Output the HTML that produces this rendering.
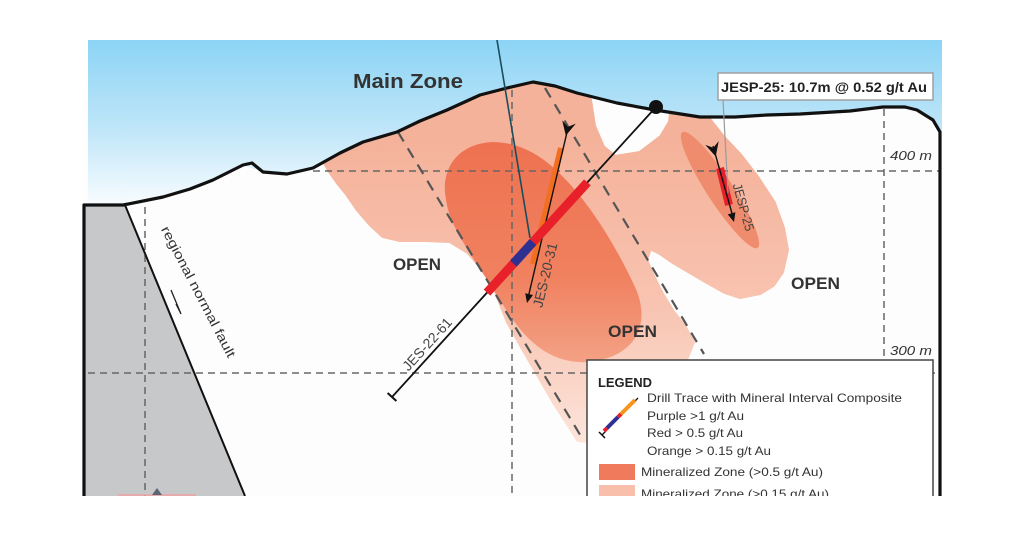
<!DOCTYPE html>
<html>
<head>
<meta charset="utf-8">
<style>
html,body{margin:0;padding:0;background:#fff;}
svg{display:block;}
text{font-family:"Liberation Sans",sans-serif;}
</style>
</head>
<body>
<svg width="1024" height="536" viewBox="0 0 1024 536" xmlns="http://www.w3.org/2000/svg">
<defs>
  <linearGradient id="sky" gradientUnits="userSpaceOnUse" x1="0" y1="40" x2="0" y2="212">
    <stop offset="0" stop-color="#8cd4f5"/>
    <stop offset="0.5" stop-color="#bde5f8"/>
    <stop offset="1" stop-color="#fdfeff"/>
  </linearGradient>
  <linearGradient id="pale" gradientUnits="userSpaceOnUse" x1="0" y1="140" x2="0" y2="445">
    <stop offset="0" stop-color="#f5b29a"/>
    <stop offset="0.55" stop-color="#f8c4b1"/>
    <stop offset="1" stop-color="#fde5db"/>
  </linearGradient>
  <linearGradient id="dark" gradientUnits="userSpaceOnUse" x1="0" y1="145" x2="0" y2="365">
    <stop offset="0" stop-color="#ee7252"/>
    <stop offset="0.6" stop-color="#f0815f"/>
    <stop offset="1" stop-color="#f4a286"/>
  </linearGradient>
</defs>

<rect x="0" y="0" width="1024" height="536" fill="#fff"/>
<!-- underground -->
<rect x="84" y="100" width="856" height="396" fill="#fdfdfd"/>

<!-- gray fault block -->
<polygon points="84,205 125,205 245,496 84,496" fill="#c7c8ca"/>

<!-- pale mineralized zone -->
<polygon fill="url(#pale)" stroke="url(#pale)" stroke-width="4" stroke-linejoin="round" points="
318,150 329,170 338,183 347,194 358,210 370,224 383,236 400,240 425,240 450,241 468,252 482,268 493,284 500,302 508,322 522,347 537,373 555,404 568,424 578,440 600,442 630,418 655,396 685,362 693,342 684,326 673,312 662,294 653,276 646,260 650,248 660,253 673,262 690,272 707,282 725,292 740,297 760,293 773,285 782,272 787,250 783,228 774,203 757,177 740,155 723,137 708,118 700,104 672,104 670,122 661,137 640,153 615,157 603,147 594,126 590,100 560,60 330,120"/>

<!-- dark mineralized zone -->
<path fill="url(#dark)" d="M 445,193 C 443,165 460,144 492,142 C 522,142 546,158 566,180 C 591,206 616,246 635,287 C 651,322 638,356 590,362 C 550,365 525,340 505,308 C 485,275 460,242 450,216 C 447,207 446,200 445,193 Z"/>
<ellipse cx="720" cy="190" rx="69" ry="13" transform="rotate(57 720 190)" fill="#f08c6e"/>

<!-- sky -->
<path fill="url(#sky)" d="M88,40 L942,40 L942,132 L940,132 L933,120 L917,110 L883,107 L850,111 L833,112 L767,115 L700,117 L655,110 L617,103 L577,93 L533,82 L507,88 L480,95 L447,110 L397,132 L363,142 L340,153 L313,168 L287,174 L263,172 L243,165 L213,180 L163,197 L123,205 L88,205 Z"/>

<!-- grid dashed lines -->
<g stroke="#666" stroke-width="1.5" stroke-dasharray="7 5" fill="none">
  <line x1="313" y1="171" x2="940" y2="171"/>
  <line x1="88" y1="373" x2="940" y2="373"/>
  <line x1="145" y1="207" x2="145" y2="496"/>
  <line x1="512" y1="90" x2="512" y2="496"/>
  <line x1="884" y1="109" x2="884" y2="496"/>
</g>
<!-- diagonal dashed lines -->
<g stroke="#555" stroke-width="2.2" stroke-dasharray="11 8" fill="none">
  <line x1="398" y1="132" x2="582" y2="438"/>
  <line x1="545" y1="88" x2="704" y2="354"/>
</g>

<!-- fault line -->
<line x1="125" y1="205" x2="245" y2="496" stroke="#111" stroke-width="2"/>
<polyline points="171,290 181,314 176,304" fill="none" stroke="#222" stroke-width="1.3"/>

<!-- surface line -->
<path fill="none" stroke="#111" stroke-width="3.2" stroke-linejoin="round" d="M84,496 L84,205 L123,205 L163,197 L190,189 L213,180 L243,165 L252,163 L263,172 L287,174 L313,168 L340,153 L363,142 L397,132 L420,121 L447,110 L480,95 L507,88 L533,82 L555,86 L577,93 L617,103 L655,110 L700,117 L735,117 L767,115 L800,114 L833,112 L850,111 L883,107 L905,107 L917,110 L933,120 L940,132 L940,496"/>

<!-- teal line -->
<line x1="497" y1="40" x2="530" y2="238" stroke="#1b4d5c" stroke-width="1.6"/>

<!-- JES-20-31 -->
<line x1="561" y1="148" x2="533" y2="264" stroke="#f26f21" stroke-width="6"/>
<line x1="568" y1="128" x2="528" y2="298" stroke="#111" stroke-width="1.4"/>
<polygon points="527,303 533,295 525.2,293.3" fill="#111"/>
<polygon points="575.8,123.6 567.9,126.9 562.2,120.4 565.8,135.6" fill="#111"/>

<!-- JES-22-61 -->
<line x1="656" y1="107" x2="392" y2="397" stroke="#111" stroke-width="1.8"/>
<line x1="396.4" y1="401" x2="387.6" y2="393" stroke="#111" stroke-width="2"/>
<line x1="587.4" y1="182.4" x2="487" y2="292.6" stroke="#e8202a" stroke-width="9"/>
<line x1="533" y1="242" x2="513.4" y2="263.6" stroke="#2e3192" stroke-width="9"/>
<circle cx="656" cy="107" r="7" fill="#111"/>

<!-- JESP-25 -->
<line x1="720" y1="168" x2="729" y2="205" stroke="#e8202a" stroke-width="8"/>
<line x1="713" y1="146" x2="733" y2="217" stroke="#111" stroke-width="1.4"/>
<polygon points="734,222 735.4,212.2 727.7,214.4" fill="#111"/>
<polygon points="718.7,141.1 713.3,147.8 705.3,144.9 715.7,156.5" fill="#111"/>

<!-- callout -->
<line x1="723" y1="100" x2="728" y2="193" stroke="#9a9a9a" stroke-width="1.2"/>
<rect x="718" y="73" width="215" height="27" fill="#fff" stroke="#a0a0a0" stroke-width="1.5"/>
<text x="721" y="92" font-size="14" font-weight="bold" fill="#222" textLength="206" lengthAdjust="spacingAndGlyphs">JESP-25: 10.7m @ 0.52 g/t Au</text>

<!-- labels -->
<text x="353" y="88" font-size="20" font-weight="bold" fill="#333" textLength="110" lengthAdjust="spacingAndGlyphs">Main Zone</text>
<text x="393" y="270" font-size="17" font-weight="bold" fill="#333" textLength="48" lengthAdjust="spacingAndGlyphs">OPEN</text>
<text x="608" y="337" font-size="17" font-weight="bold" fill="#333" textLength="49" lengthAdjust="spacingAndGlyphs">OPEN</text>
<text x="791" y="289" font-size="17" font-weight="bold" fill="#333" textLength="49" lengthAdjust="spacingAndGlyphs">OPEN</text>
<text x="890" y="160" font-size="13" font-style="italic" fill="#333" textLength="42" lengthAdjust="spacingAndGlyphs">400 m</text>
<text x="890" y="355" font-size="13" font-style="italic" fill="#333" textLength="42" lengthAdjust="spacingAndGlyphs">300 m</text>

<g transform="translate(427,344) rotate(-47.7)">
  <text x="0" y="5" font-size="14" fill="#444" text-anchor="middle" textLength="66" lengthAdjust="spacingAndGlyphs">JES-22-61</text>
</g>
<g transform="translate(545,275) rotate(-76.5)">
  <text x="0" y="5" font-size="14" fill="#444" text-anchor="middle" textLength="66" lengthAdjust="spacingAndGlyphs">JES-20-31</text>
</g>
<g transform="translate(744,207) rotate(74.5)">
  <text x="0" y="5" font-size="13" fill="#444" text-anchor="middle" textLength="49" lengthAdjust="spacingAndGlyphs">JESP-25</text>
</g>
<g transform="translate(198,292) rotate(62.5)">
  <text x="0" y="4" font-size="13" fill="#333" text-anchor="middle" textLength="146" lengthAdjust="spacingAndGlyphs">regional normal fault</text>
</g>

<!-- legend -->
<rect x="587" y="360" width="346" height="150" fill="#fff" stroke="#444" stroke-width="1.5"/>
<text x="598" y="387" font-size="13" font-weight="bold" fill="#222" textLength="54" lengthAdjust="spacingAndGlyphs">LEGEND</text>
<text x="647" y="402" font-size="12" fill="#333" textLength="255" lengthAdjust="spacingAndGlyphs">Drill Trace with Mineral Interval Composite</text>
<text x="647" y="420" font-size="12" fill="#333" textLength="97" lengthAdjust="spacingAndGlyphs">Purple &gt;1 g/t Au</text>
<text x="647" y="437" font-size="12" fill="#333" textLength="96" lengthAdjust="spacingAndGlyphs">Red &gt; 0.5 g/t Au</text>
<text x="647" y="455" font-size="12" fill="#333" textLength="124" lengthAdjust="spacingAndGlyphs">Orange &gt; 0.15 g/t Au</text>
<rect x="599" y="464" width="36" height="16" fill="#f07a5c"/>
<text x="641" y="476" font-size="12" fill="#333" textLength="182" lengthAdjust="spacingAndGlyphs">Mineralized Zone (&gt;0.5 g/t Au)</text>
<rect x="599" y="485" width="36" height="12" fill="#f8c0aa"/>
<text x="641" y="498" font-size="12" fill="#333" textLength="188" lengthAdjust="spacingAndGlyphs">Mineralized Zone (&gt;0.15 g/t Au)</text>
<!-- legend drill icon -->
<line x1="602" y1="435" x2="638" y2="398" stroke="#111" stroke-width="1.3"/>
<line x1="599" y1="432" x2="605" y2="438" stroke="#111" stroke-width="1.5"/>
<line x1="604" y1="431" x2="607" y2="428" stroke="#e8202a" stroke-width="4"/>
<line x1="607" y1="428" x2="618" y2="417" stroke="#2e3192" stroke-width="4"/>
<line x1="618" y1="417" x2="621" y2="414" stroke="#e8202a" stroke-width="4"/>
<line x1="621" y1="414" x2="635" y2="400" stroke="#f7941d" stroke-width="4"/>

<!-- bottom cut -->
<rect x="0" y="496" width="1024" height="40" fill="#fff"/>
<line x1="118" y1="495" x2="196" y2="495" stroke="#f1a3a3" stroke-width="1.5"/>
<polygon points="152,495 157,488 162,495" fill="#5b6672"/>
</svg>
</body>
</html>
